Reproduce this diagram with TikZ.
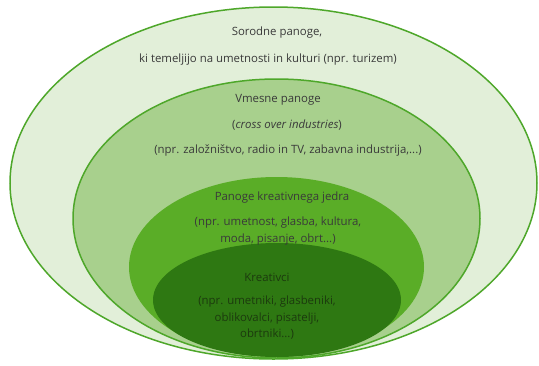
\documentclass[tikz,border=0pt]{standalone}
\usepackage{fontspec}
\setmainfont{Open Sans}
\definecolor{ringline}{HTML}{4EA72A}
\definecolor{ringa}{HTML}{E2EFD9}
\definecolor{ringb}{HTML}{A8D08D}
\definecolor{ringc}{HTML}{5AAD27}
\definecolor{ringd}{HTML}{2E7812}
\definecolor{txtgray}{HTML}{3A3A3A}
\definecolor{txtdark}{HTML}{1C3A0E}

\begin{document}
\begin{tikzpicture}[x=1pt,y=-1pt,font=\fontsize{11.4}{14}\selectfont,
  lbl/.style={inner sep=1pt,text=txtgray},
  lbldark/.style={inner sep=1pt,text=txtdark}]
 \useasboundingbox (0,0) rectangle (539,365);
 \fill[white] (0,0) rectangle (539,365);
 % rings, outside in
 \filldraw[fill=ringa,draw=ringline,line width=1.5pt]
   (273.5,183) ellipse[x radius=263.5,y radius=176];
 \filldraw[fill=ringb,draw=ringline,line width=1.5pt]
   (276.5,218.5) ellipse[x radius=203.5,y radius=139.5];
 \fill[ringc] (276.5,267) ellipse[x radius=147.5,y radius=90];
 \fill[ringd] (277,300) ellipse[x radius=124,y radius=57];
 % texts
 \node[lbl] (sorodne) at (277,33) {Sorodne panoge,};
 \node[lbl] (temelj) at (268,60) {ki temeljijo na umetnosti in kulturi (npr. turizem)};
 \node[lbl] (vmesne) at (278,100) {Vmesne panoge};
 \node[lbl] (cross) at (287,125) {(\textit{cross over industries})};
 \node[lbl] (zalozn) at (288,150) {(npr. založništvo, radio in TV, zabavna industrija,...)};
 \node[lbl] (jedro) at (282,198) {Panoge kreativnega jedra};
 \node[lbl,align=center] (jedroex) at (278,231)
   {(npr. umetnost, glasba, kultura,\\[3pt]moda, pisanje, obrt...)};
 \node[lbldark] (kreat) at (267,277) {Kreativci};
 \node[lbldark,align=center] (kreatex) at (267,318)
   {(npr. umetniki, glasbeniki,\\[2.5pt]oblikovalci, pisatelji,\\[2.5pt]obrtniki...)};
\end{tikzpicture}
\end{document}
